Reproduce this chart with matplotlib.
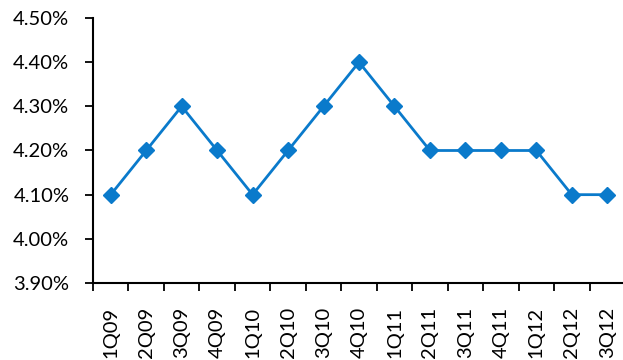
import numpy as np
import matplotlib
matplotlib.use("Agg")
import matplotlib.pyplot as plt
from matplotlib.ticker import FixedLocator, PercentFormatter

quarters = ["1Q09", "2Q09", "3Q09", "4Q09", "1Q10", "2Q10", "3Q10", "4Q10",
            "1Q11", "2Q11", "3Q11", "4Q11", "1Q12", "2Q12", "3Q12"]
rate = [4.1, 4.2, 4.3, 4.2, 4.1, 4.2, 4.3, 4.4, 4.3, 4.2, 4.2, 4.2, 4.2, 4.1, 4.1]
y_ticks = [3.9, 4.0, 4.1, 4.2, 4.3, 4.4, 4.5]

LINE_C = "#0A7ACB"

plt.rcParams["font.family"] = ["Lato", "DejaVu Sans"]

fig = plt.figure(figsize=(6.23, 3.6), dpi=100)
ax = fig.add_axes([93 / 623, 1 - 283 / 360, 532 / 623, 265 / 360])

x = np.arange(len(quarters))
ax.plot(x, rate, color=LINE_C, lw=2, marker="D", markersize=8,
        markerfacecolor=LINE_C, markeredgecolor=LINE_C, clip_on=False)

ax.set_xlim(-0.5, len(quarters) - 0.5)
ax.set_ylim(3.9, 4.5)
ax.set_yticks(y_ticks)
ax.yaxis.set_major_formatter(PercentFormatter(decimals=2))

ax.set_xticks(x)
ax.set_xticklabels(quarters, rotation=90)
ax.xaxis.set_minor_locator(FixedLocator(np.arange(-0.5, len(quarters), 1.0)))
ax.tick_params(axis="x", which="major", length=0, pad=17, labelsize=14.5)
ax.tick_params(axis="x", which="minor", length=6, width=1.3, direction="out")
ax.tick_params(axis="y", length=6, width=1.3, direction="out", pad=11, labelsize=14.5)

for side in ("top", "right"):
    ax.spines[side].set_visible(False)
for side in ("left", "bottom"):
    ax.spines[side].set_linewidth(1.5)

fig.savefig("out.png", dpi=100)
